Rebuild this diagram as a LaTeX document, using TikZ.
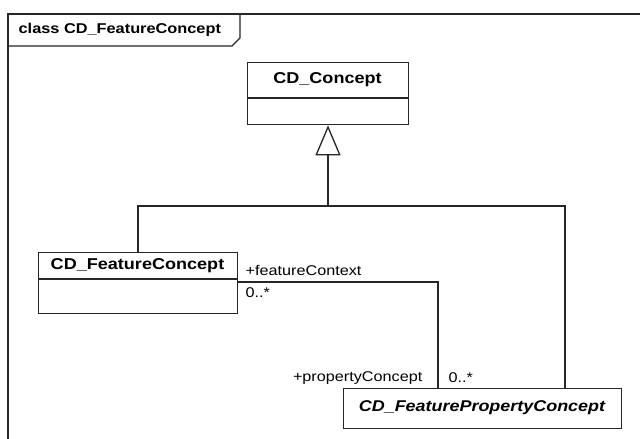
\documentclass[tikz,border=0pt]{standalone}
\usepackage{fontspec}
\setmainfont{Liberation Sans}[FakeStretch=1.15]
\usetikzlibrary{arrows.meta}
\begin{document}
\begin{tikzpicture}[x=1pt,y=-1pt,line width=1.3pt,
  umlbox/.style={draw=black!85,fill=white,anchor=north west,inner sep=0pt},
  classname/.style={font=\fontsize{15.7}{18}\selectfont\bfseries,inner sep=0pt},
  abstractname/.style={font=\fontsize{15.6}{18}\selectfont\bfseries\itshape,inner sep=0pt},
  rolelabel/.style={font=\fontsize{14.1}{16}\selectfont,inner sep=0pt},
  wire/.style={draw=black!85,line width=1.3pt},
  genarrow/.style={wire,-{Triangle[open,length=30pt,width=25pt,line width=1.3pt]}}]
\clip (0,0) rectangle (640,439);
\fill[white] (0,0) rectangle (640,439);

% diagram frame with its name tab
\draw[wire] (8,460) -- (8,14) -- (660,14);
\draw[wire] (8,46) -- (232,46) -- (240,38) -- (240,14);
\node[font=\fontsize{14.2}{16}\selectfont\bfseries,inner sep=0pt,anchor=west] (title) at (18,30) {class CD\_FeatureConcept};

% classes
\node[umlbox,minimum width=161pt,minimum height=62pt] (concept) at (247,62) {};
\draw[wire] (247,98) -- (408,98);
\node[classname] (conceptname) at (327.5,80) {CD\_Concept};

\node[umlbox,minimum width=199pt,minimum height=61pt] (feature) at (38,252) {};
\draw[wire] (38,279) -- (237,279);
\node[classname] (featurename) at (137.5,266) {CD\_FeatureConcept};

\node[umlbox,minimum width=278pt,minimum height=40pt] (property) at (343,388) {};
\node[abstractname] (propertyname) at (482,408) {CD\_FeaturePropertyConcept};

% generalization tree
\coordinate (stem) at (328,206);
\coordinate (leftbend) at (138,206);
\coordinate (rightbend) at (565,206);
\draw[wire] (feature.north -| leftbend) -- (leftbend) -- (rightbend) -- (property.north -| rightbend);
\draw[genarrow] (stem) -- (concept.south -| stem);

% association
\coordinate (assocbend) at (438,282);
\draw[wire] (feature.east |- assocbend) -- (assocbend) -- (property.north -| assocbend);
\node[rolelabel,anchor=west] (ctxrole) at (245,270.5) {+featureContext};
\node[rolelabel,anchor=west] (ctxmult) at (245,292.5) {0..*};
\node[rolelabel,anchor=east] (proprole) at (423,378) {+propertyConcept};
\node[rolelabel,anchor=west] (propmult) at (448,378) {0..*};
\end{tikzpicture}
\end{document}
